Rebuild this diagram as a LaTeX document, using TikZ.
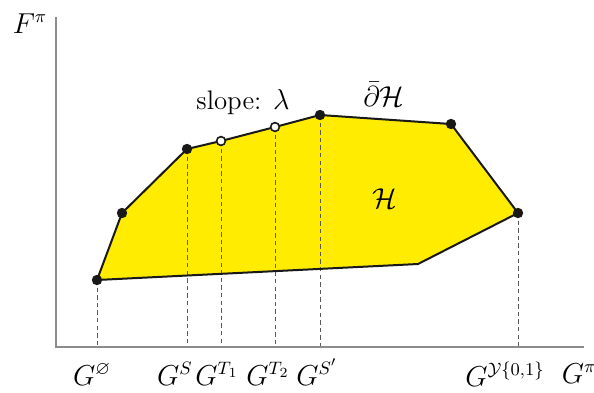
\documentclass[tikz,border=0pt]{standalone}
\usepackage{amssymb}
\definecolor{hullyellow}{RGB}{255,236,0}
\tikzset{
    dot/.style={circle, fill=black!90, inner sep=0pt, minimum size=5.2pt},
    hollow/.style={circle, draw=black!90, fill=white, line width=0.8pt, inner sep=0pt, minimum size=4.4pt},
    drop/.style={dashed, black!65, line width=0.4pt, dash pattern=on 2.2pt off 1.6pt},
    axis/.style={black!45, line width=0.8pt},
    hull/.style={black!90, line width=1pt, line join=round},
    lbl/.style={anchor=base, inner sep=0pt, font=\fontsize{13.4}{16}\selectfont}
}
\begin{document}
\begin{tikzpicture}[x=0.5pt, y=-0.5pt]

    \useasboundingbox (0,0) rectangle (594,392);

    \coordinate (top) at (56,17);
    \coordinate (origin) at (56,347);
    \coordinate (right) at (584,347);

    \coordinate (gempty) at (97,280);
    \coordinate (ga) at (122,213);
    \coordinate (gs) at (187,149);
    \coordinate (gta) at (221,141);
    \coordinate (gtb) at (275,127);
    \coordinate (gsp) at (320,115);
    \coordinate (gb) at (451,124);
    \coordinate (gy) at (518,213);
    \coordinate (gc) at (418,264);

    \fill[hullyellow] (gempty) -- (ga) -- (gs) -- (gta) -- (gtb) -- (gsp)
        -- (gb) -- (gy) -- (gc) -- cycle;

    \draw[drop] (gempty) -- (gempty |- origin);
    \draw[drop] (gs) -- (gs |- origin);
    \draw[drop] (gta) -- (gta |- origin);
    \draw[drop] (gtb) -- (gtb |- origin);
    \draw[drop] (gsp) -- (gsp |- origin);
    \draw[drop] (gy) -- (gy |- origin);

    \draw[axis] (top) -- (origin) -- (right);

    \draw[hull] (gempty) -- (ga) -- (gs) -- (gta) -- (gtb) -- (gsp)
        -- (gb) -- (gy) -- (gc) -- cycle;

    \node[dot] (dempty) at (gempty) {};
    \node[dot] (da) at (ga) {};
    \node[dot] (ds) at (gs) {};
    \node[hollow] (dta) at (gta) {};
    \node[hollow] (dtb) at (gtb) {};
    \node[dot] (dsp) at (gsp) {};
    \node[dot] (db) at (gb) {};
    \node[dot] (dy) at (gy) {};

    \node[lbl] (fpi) at (30,33) {$F^{\pi}$};
    \node[lbl] (gpi) at (579,383) {$G^{\pi}$};

    \node[lbl] (lempty) at (92,385) {$G^{\varnothing}$};
    \node[lbl] (ls) at (175,385) {$G^{S}$};
    \node[lbl] (lta) at (217,385) {$G^{T_1}$};
    \node[lbl] (ltb) at (268,385) {$G^{T_2}$};
    \node[lbl] (lsp) at (317,385) {$G^{S'}$};
    \node[lbl] (ly) at (505,386) {$G^{\mathcal{Y}\{0,1\}}$};

    \node[lbl] (slope) at (243,109) {slope: $\lambda$};
    \node[lbl] (bound) at (384,106) {$\bar\partial\mathcal{H}$};
    \node[lbl] (hull) at (385,208) {$\mathcal{H}$};

\end{tikzpicture}
\end{document}
